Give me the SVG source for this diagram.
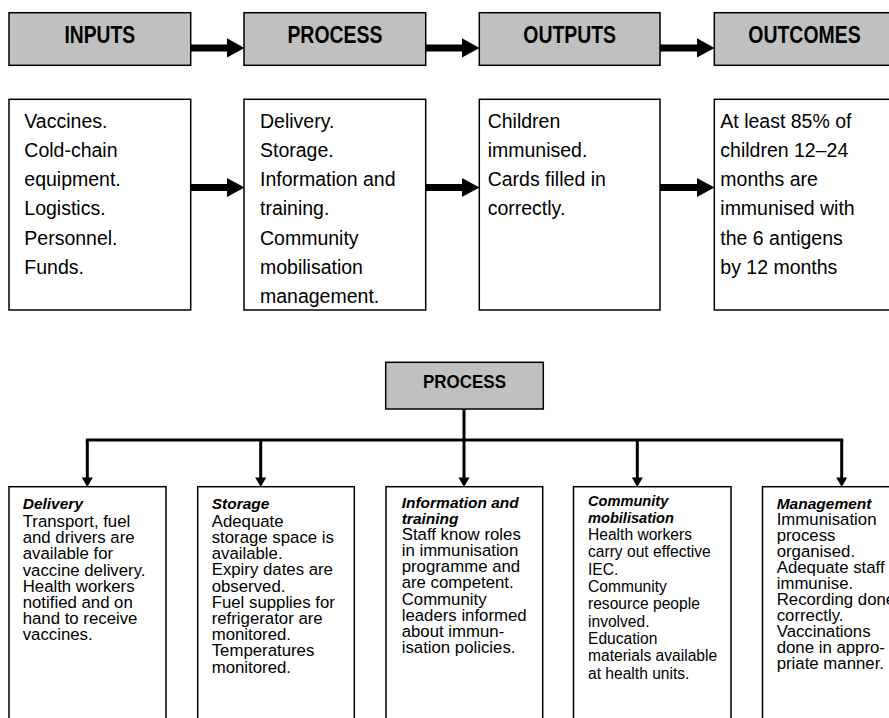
<svg xmlns="http://www.w3.org/2000/svg" width="889" height="718" viewBox="0 0 889 718">
<style>
.hdr{fill:#c0c0c0;stroke:#000;stroke-width:1.5}
.box{fill:#fff;stroke:#000;stroke-width:1.5}
.ht{font-family:"Liberation Sans",Arial,sans-serif;font-weight:bold;font-size:23px;text-anchor:middle;fill:#000}
.bt{font-family:"Liberation Sans",Arial,sans-serif;font-size:19.5px;fill:#000}
.st{font-family:"Liberation Sans",Arial,sans-serif;font-size:16.8px;fill:#000}
.sc{font-family:"Liberation Sans",Arial,sans-serif;font-size:15.6px;fill:#000}
.bi{font-weight:bold;font-style:italic;font-size:15.5px}
.sc .bi{font-size:14.6px}
.ln{stroke:#000;stroke-width:3;fill:none}
</style>
<g id="connectors">
  <rect x="190" y="44.5" width="38" height="7"/><polygon points="227,38.3 244.5,48 227,57.5"/>
  <rect x="425" y="44.5" width="38" height="7"/><polygon points="462,38.3 479.5,48 462,57.5"/>
  <rect x="659" y="44.5" width="39" height="7"/><polygon points="697,38.3 714.5,48 697,57.5"/>
  <rect x="190" y="184" width="38" height="7"/><polygon points="227,178 244.5,187.5 227,197"/>
  <rect x="425" y="184" width="38" height="7"/><polygon points="462,178 479.5,187.5 462,197"/>
  <rect x="659" y="184" width="39" height="7"/><polygon points="697,178 714.5,187.5 697,197"/>
  <line class="ln" x1="464" y1="409" x2="464" y2="440" stroke-width="2.5"/>
  <line class="ln" x1="85.8" y1="440" x2="843.2" y2="440"/>
  <line class="ln" x1="87.3" y1="440" x2="87.3" y2="479"/><polygon points="81.8,477.5 92.8,477.5 87.3,487"/>
  <line class="ln" x1="260.7" y1="440" x2="260.7" y2="479"/><polygon points="255.2,477.5 266.2,477.5 260.7,487"/>
  <line class="ln" x1="464" y1="440" x2="464" y2="479"/><polygon points="458.5,477.5 469.5,477.5 464,487"/>
  <line class="ln" x1="637.3" y1="440" x2="637.3" y2="479"/><polygon points="631.8,477.5 642.8,477.5 637.3,487"/>
  <line class="ln" x1="841.7" y1="440" x2="841.7" y2="479"/><polygon points="836.2,477.5 847.2,477.5 841.7,487"/>
</g>
<g id="h-inputs"><rect class="hdr" x="9" y="12.7" width="181.7" height="52.6"/><text class="ht" x="99.8" y="43" textLength="70.7" lengthAdjust="spacingAndGlyphs">INPUTS</text></g>
<g id="h-process"><rect class="hdr" x="244" y="12.7" width="181.7" height="52.6"/><text class="ht" x="334.9" y="43" textLength="95" lengthAdjust="spacingAndGlyphs">PROCESS</text></g>
<g id="h-outputs"><rect class="hdr" x="479.3" y="12.7" width="180.7" height="52.6"/><text class="ht" x="569.7" y="43" textLength="92.7" lengthAdjust="spacingAndGlyphs">OUTPUTS</text></g>
<g id="h-outcomes"><rect class="hdr" x="714.3" y="12.7" width="181" height="52.6"/><text class="ht" x="804.5" y="43" textLength="112.3" lengthAdjust="spacingAndGlyphs">OUTCOMES</text></g>

<g id="b-inputs"><rect class="box" x="9" y="99.3" width="181.7" height="210.7"/>
<text class="bt"><tspan x="24.3" y="127.5">Vaccines.</tspan><tspan x="24.3" y="156.8">Cold-chain</tspan><tspan x="24.3" y="186.1">equipment.</tspan><tspan x="24.3" y="215.4">Logistics.</tspan><tspan x="24.3" y="244.7">Personnel.</tspan><tspan x="24.3" y="274">Funds.</tspan></text></g>
<g id="b-process"><rect class="box" x="244" y="99.3" width="181.7" height="210.7"/>
<text class="bt"><tspan x="260" y="127.5">Delivery.</tspan><tspan x="260" y="156.8">Storage.</tspan><tspan x="260" y="186.1">Information and</tspan><tspan x="260" y="215.4">training.</tspan><tspan x="260" y="244.7">Community</tspan><tspan x="260" y="274">mobilisation</tspan><tspan x="260" y="303.3">management.</tspan></text></g>
<g id="b-outputs"><rect class="box" x="479.3" y="99.3" width="180.7" height="210.7"/>
<text class="bt"><tspan x="487.7" y="127.5">Children</tspan><tspan x="487.7" y="156.8">immunised.</tspan><tspan x="487.7" y="186.1">Cards filled in</tspan><tspan x="487.7" y="215.4">correctly.</tspan></text></g>
<g id="b-outcomes"><rect class="box" x="714.3" y="99.3" width="181" height="210.7"/>
<text class="bt"><tspan x="720.3" y="127.5">At least 85% of</tspan><tspan x="720.3" y="156.8">children 12–24</tspan><tspan x="720.3" y="186.1">months are</tspan><tspan x="720.3" y="215.4">immunised with</tspan><tspan x="720.3" y="244.7">the 6 antigens</tspan><tspan x="720.3" y="274">by 12 months</tspan></text></g>

<g id="p-process"><rect class="hdr" x="385.7" y="362.3" width="157.6" height="46.7"/><text class="ht" x="464.5" y="388" style="font-size:18px" textLength="83" lengthAdjust="spacingAndGlyphs">PROCESS</text></g>

<g id="d-delivery"><rect class="box" x="9" y="486.7" width="157" height="250"/>
<text class="st"><tspan x="22.7" y="509" class="bi">Delivery</tspan><tspan x="22.7" y="527">Transport, fuel</tspan><tspan x="22.7" y="543.2">and drivers are</tspan><tspan x="22.7" y="559.4">available for</tspan><tspan x="22.7" y="575.6">vaccine delivery.</tspan><tspan x="22.7" y="591.8">Health workers</tspan><tspan x="22.7" y="608">notified and on</tspan><tspan x="22.7" y="624.2">hand to receive</tspan><tspan x="22.7" y="640.4">vaccines.</tspan></text></g>
<g id="d-storage"><rect class="box" x="197.7" y="486.7" width="156.6" height="250"/>
<text class="st"><tspan x="211.7" y="508.5" class="bi">Storage</tspan><tspan x="211.7" y="526.7">Adequate</tspan><tspan x="211.7" y="542.9">storage space is</tspan><tspan x="211.7" y="559.1">available.</tspan><tspan x="211.7" y="575.3">Expiry dates are</tspan><tspan x="211.7" y="591.5">observed.</tspan><tspan x="211.7" y="607.7">Fuel supplies for</tspan><tspan x="211.7" y="623.9">refrigerator are</tspan><tspan x="211.7" y="640.1">monitored.</tspan><tspan x="211.7" y="656.3">Temperatures</tspan><tspan x="211.7" y="672.5">monitored.</tspan></text></g>
<g id="d-info"><rect class="box" x="386" y="486.7" width="156.7" height="250"/>
<text class="st"><tspan x="401.7" y="507.5" class="bi">Information and</tspan><tspan x="401.7" y="523.5" class="bi">training</tspan><tspan x="401.7" y="539.7">Staff know roles</tspan><tspan x="401.7" y="555.9">in immunisation</tspan><tspan x="401.7" y="572.1">programme and</tspan><tspan x="401.7" y="588.3">are competent.</tspan><tspan x="401.7" y="604.5">Community</tspan><tspan x="401.7" y="620.7">leaders informed</tspan><tspan x="401.7" y="636.9">about immun-</tspan><tspan x="401.7" y="653.1">isation policies.</tspan></text></g>
<g id="d-community"><rect class="box" x="573.5" y="486.7" width="157.5" height="250"/>
<text class="sc"><tspan x="588" y="505.5" class="bi">Community</tspan><tspan x="588" y="522.8" class="bi">mobilisation</tspan><tspan x="588" y="540.1">Health workers</tspan><tspan x="588" y="557.4">carry out effective</tspan><tspan x="588" y="574.7">IEC.</tspan><tspan x="588" y="592">Community</tspan><tspan x="588" y="609.3">resource people</tspan><tspan x="588" y="626.6">involved.</tspan><tspan x="588" y="643.9">Education</tspan><tspan x="588" y="661.2">materials available</tspan><tspan x="588" y="678.5">at health units.</tspan></text></g>
<g id="d-management"><rect class="box" x="762.5" y="486.7" width="157" height="250"/>
<text class="st"><tspan x="776.7" y="508.5" class="bi">Management</tspan><tspan x="776.7" y="524.5">Immunisation</tspan><tspan x="776.7" y="540.5">process</tspan><tspan x="776.7" y="556.5">organised.</tspan><tspan x="776.7" y="572.5">Adequate staff</tspan><tspan x="776.7" y="588.5">immunise.</tspan><tspan x="776.7" y="604.5">Recording done</tspan><tspan x="776.7" y="620.5">correctly.</tspan><tspan x="776.7" y="636.5">Vaccinations</tspan><tspan x="776.7" y="652.5">done in appro-</tspan><tspan x="776.7" y="668.5">priate manner.</tspan></text></g>
</svg>
